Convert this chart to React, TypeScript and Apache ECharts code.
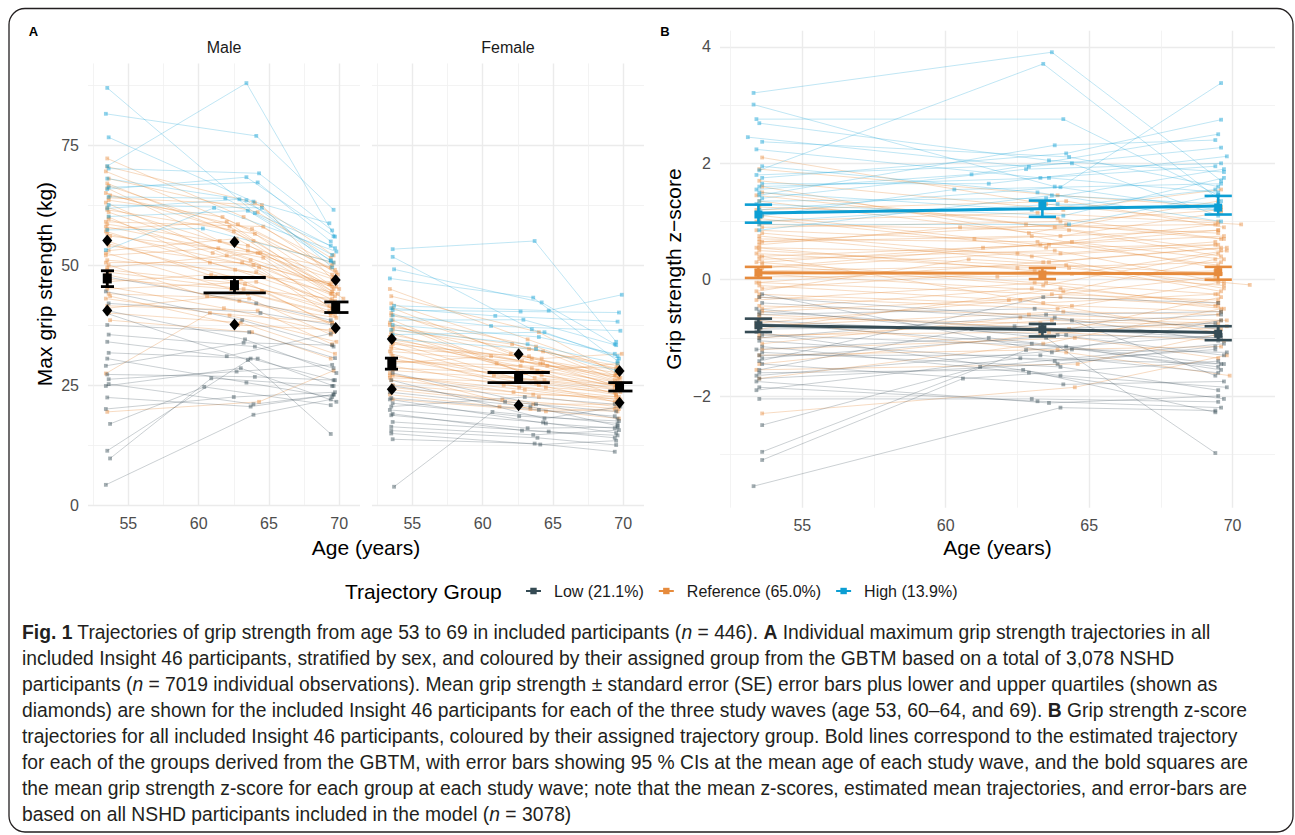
import React, { useEffect, useRef } from "react";
import * as echarts from "echarts";

const FONT = "'Liberation Sans', Arial, Helvetica, sans-serif";
const GROUPS = ["Low (21.1%)", "Reference (65.0%)", "High (13.9%)"];
const GROUP_COLORS = ["#354b54", "#e68b3d", "#0c9ed3"];

const X_RANGE = [52.13, 71.48];
const X_TICKS = [55, 60, 65, 70];
const Y_RANGE_A = [0, 92];
const Y_TICKS_A = [0, 25, 50, 75];
const Y_RANGE_B = [-3.92, 4.28];
const Y_TICKS_B = [-2, 0, 2, 4];

// individual trajectories: [age1, value1, age2, value2, age3, value3]
const MALE_LOW = [
  [53.4, 4.2, 63.9, 18.8, 69.4, 22.0],
  [53.5, 11.3, 63.7, 30.5, 69.6, 26.0],
  [53.7, 9.7, 60.9, 26.4, 69.5, 24.8],
  [53.7, 16.9, 60.4, 24.6, 69.4, 20.8],
  [53.5, 22.4, 63.7, 20.5, 69.6, 23.0],
  [53.4, 24.8, 63.0, 28.5, 69.8, 21.5],
  [53.5, 39.9, 63.5, 30.2, 69.4, 14.8],
  [53.6, 26.2, 62.7, 27.8, 69.5, 29.2],
  [53.5, 27.2, 64.0, 26.7, 69.7, 26.0],
  [53.4, 29.0, 63.2, 33.8, 69.5, 33.3],
  [53.6, 31.7, 64.2, 30.5, 69.6, 24.8],
  [53.5, 34.0, 62.0, 31.0, 69.4, 35.7],
  [53.5, 37.5, 63.6, 36.0, 69.7, 30.6],
  [53.6, 42.0, 64.4, 40.0, 69.5, 37.5],
  [53.4, 44.5, 63.1, 38.5, 69.6, 33.0],
  [53.5, 47.5, 64.1, 42.0, 69.4, 38.5],
  [53.6, 25.2, 63.9, 21.0, 69.6, 23.0],
  [53.5, 40.5, 63.3, 34.5, 69.8, 27.5],
  [53.5, 30.5, 63.4, 25.5, 69.5, 22.5],
  [53.6, 35.5, 64.0, 33.0, 69.6, 28.5],
  [53.4, 20.0, 62.5, 22.5, 69.7, 23.5],
];
const MALE_REF = [
  [53.5, 72.2, 63.2, 60.0, 69.5, 50.0],
  [53.4, 69.5, 62.8, 58.5, 69.7, 49.0],
  [53.6, 68.0, 64.2, 61.0, 69.4, 51.5],
  [53.5, 66.0, 61.5, 55.0, 69.6, 47.0],
  [53.7, 64.5, 63.8, 57.5, 69.8, 48.5],
  [53.4, 63.0, 62.0, 52.0, 69.5, 45.5],
  [53.5, 61.5, 64.0, 56.5, 69.3, 46.0],
  [53.6, 60.0, 60.8, 50.5, 69.9, 44.0],
  [53.5, 58.5, 63.5, 54.0, 69.6, 47.5],
  [53.4, 57.0, 62.6, 49.0, 69.4, 42.5],
  [53.7, 56.0, 64.4, 52.5, 70.0, 45.0],
  [53.5, 55.0, 61.2, 47.5, 69.5, 41.0],
  [53.6, 54.0, 63.9, 50.0, 69.7, 43.5],
  [53.4, 52.5, 62.3, 45.0, 69.4, 40.0],
  [53.5, 51.0, 64.1, 48.5, 69.6, 42.0],
  [53.6, 50.0, 60.6, 43.5, 69.8, 39.0],
  [53.5, 49.0, 63.3, 46.0, 69.3, 40.5],
  [53.4, 48.0, 62.9, 42.5, 69.5, 38.0],
  [53.7, 47.0, 64.5, 44.5, 69.7, 37.5],
  [53.5, 45.5, 61.8, 41.0, 69.6, 36.0],
  [53.6, 44.0, 63.6, 43.0, 69.4, 35.5],
  [53.4, 43.0, 62.2, 39.5, 69.8, 34.0],
  [53.5, 41.5, 64.2, 40.5, 69.5, 33.5],
  [53.6, 40.0, 63.0, 38.0, 69.7, 31.5],
  [53.5, 62.0, 63.5, 53.0, 69.4, 49.5],
  [53.4, 59.0, 64.6, 58.0, 69.9, 48.0],
  [53.6, 53.0, 62.7, 55.5, 69.5, 44.5],
  [53.5, 46.5, 60.9, 48.0, 69.6, 46.5],
  [53.7, 38.5, 63.8, 36.0, 69.4, 30.5],
  [53.5, 19.4, 64.3, 21.5, 69.6, 28.0],
  [53.4, 27.4, 60.8, 40.0, 69.5, 38.0],
  [53.6, 64.0, 64.5, 62.5, 69.5, 47.0],
  [53.5, 57.5, 62.0, 59.0, 70.3, 43.0],
  [53.4, 50.5, 63.1, 50.5, 69.3, 41.5],
  [53.5, 67.0, 63.9, 55.0, 69.6, 50.5],
  [53.6, 59.5, 61.0, 52.5, 69.4, 46.0],
  [53.5, 70.5, 64.0, 63.0, 69.6, 52.0],
  [53.4, 65.0, 62.5, 57.0, 69.5, 44.0],
  [53.6, 61.0, 63.7, 51.0, 69.7, 42.5],
  [53.5, 56.5, 64.3, 49.5, 69.4, 39.5],
  [53.4, 52.0, 61.4, 53.5, 69.8, 45.5],
  [53.6, 48.5, 63.2, 45.0, 69.5, 43.0],
  [53.5, 45.0, 64.1, 46.5, 69.6, 41.0],
  [53.7, 43.5, 62.8, 37.5, 69.4, 36.5],
  [53.5, 41.0, 63.5, 44.0, 69.7, 39.5],
  [53.4, 58.0, 64.6, 51.5, 69.6, 40.5],
  [53.6, 63.5, 61.7, 60.0, 69.5, 48.0],
  [53.5, 54.5, 63.0, 47.0, 69.8, 37.0],
  [53.5, 49.5, 64.2, 52.5, 69.4, 44.0],
  [53.6, 66.5, 62.2, 58.0, 69.6, 45.0],
];
const MALE_HIGH = [
  [53.5, 86.9, 64.0, 60.8, 69.4, 54.0],
  [53.4, 81.5, 64.1, 76.9, 69.6, 61.5],
  [53.6, 76.6, 63.9, 63.2, 69.3, 58.7],
  [53.5, 70.6, 63.4, 87.9, 69.7, 55.9],
  [53.6, 70.1, 64.3, 69.1, 69.5, 57.2],
  [53.6, 66.2, 64.2, 67.2, 69.4, 54.9],
  [53.5, 65.8, 63.4, 68.3, 69.6, 56.0],
  [53.6, 64.2, 61.9, 63.9, 69.5, 52.1],
  [53.5, 61.8, 62.9, 63.7, 69.7, 53.5],
  [53.6, 60.1, 63.5, 61.3, 69.4, 51.0],
  [53.5, 57.3, 60.3, 57.6, 69.6, 50.5],
  [53.4, 53.1, 61.1, 61.9, 69.8, 52.8],
  [53.6, 62.5, 64.5, 61.9, 69.5, 49.5],
  [53.5, 68.0, 63.4, 63.5, 69.4, 50.8],
];
const FEMALE_LOW = [
  [53.7, 3.8, 60.7, 19.4, 69.6, 17.0],
  [53.6, 13.7, 63.7, 12.8, 69.4, 11.1],
  [53.5, 14.9, 64.1, 12.6, 69.5, 13.4],
  [53.5, 16.3, 63.6, 14.6, 69.7, 15.6],
  [53.6, 17.3, 64.7, 15.3, 69.4, 14.0],
  [53.5, 18.7, 63.2, 16.0, 69.6, 16.2],
  [53.4, 19.8, 64.3, 17.2, 69.5, 15.0],
  [53.6, 21.2, 62.6, 18.5, 69.7, 17.5],
  [53.5, 22.3, 64.0, 19.8, 69.4, 18.5],
  [53.4, 23.5, 63.4, 20.5, 69.6, 16.5],
  [53.6, 24.8, 61.6, 21.5, 69.5, 19.5],
  [53.5, 26.0, 64.4, 18.0, 69.8, 20.5],
  [53.5, 20.5, 63.0, 22.5, 69.4, 21.0],
  [53.6, 27.5, 63.8, 21.0, 69.6, 18.0],
  [53.5, 15.5, 63.9, 14.0, 69.5, 12.5],
  [53.6, 19.0, 62.8, 15.5, 69.6, 14.5],
  [53.4, 22.0, 64.5, 17.0, 69.4, 16.0],
];
const FEMALE_REF = [
  [53.4, 45.0, 63.2, 34.5, 69.6, 28.0],
  [53.5, 43.5, 64.0, 36.0, 69.5, 27.5],
  [53.6, 41.0, 62.0, 31.5, 69.7, 26.5],
  [53.5, 39.5, 63.8, 33.0, 69.4, 27.0],
  [53.4, 38.0, 61.0, 29.5, 69.8, 25.5],
  [53.6, 36.5, 64.3, 32.0, 69.6, 26.0],
  [53.5, 35.5, 62.8, 30.0, 69.5, 25.0],
  [53.6, 34.0, 63.5, 28.5, 69.7, 24.5],
  [53.5, 33.0, 60.8, 27.0, 69.4, 23.5],
  [53.4, 32.0, 64.1, 29.5, 69.8, 25.5],
  [53.6, 31.0, 62.4, 26.5, 69.6, 24.0],
  [53.5, 30.0, 63.9, 28.0, 69.5, 23.0],
  [53.5, 29.0, 61.5, 25.0, 69.7, 22.5],
  [53.6, 28.0, 64.4, 26.0, 69.4, 24.5],
  [53.4, 27.0, 63.0, 24.0, 69.6, 21.5],
  [53.5, 26.0, 62.2, 23.5, 69.8, 22.0],
  [53.6, 25.0, 64.0, 22.5, 69.5, 20.5],
  [53.5, 24.0, 63.6, 21.0, 69.7, 21.0],
  [53.4, 23.0, 61.2, 20.5, 69.6, 19.5],
  [53.6, 22.0, 64.5, 19.5, 69.4, 20.0],
  [53.5, 36.0, 63.1, 27.5, 69.6, 29.5],
  [53.6, 33.5, 64.2, 30.5, 69.9, 31.5],
  [53.5, 29.5, 60.6, 31.0, 69.5, 27.0],
  [53.4, 27.5, 63.4, 20.0, 69.7, 18.0],
  [53.5, 31.5, 62.6, 24.5, 69.6, 22.0],
  [53.6, 38.5, 63.7, 26.5, 69.5, 25.0],
  [53.5, 42.0, 63.3, 32.5, 69.6, 29.0],
  [53.4, 34.5, 64.6, 29.0, 69.8, 26.5],
  [53.5, 40.0, 63.5, 30.5, 69.6, 27.5],
  [53.6, 37.0, 62.1, 33.5, 69.5, 28.5],
  [53.4, 35.0, 64.2, 27.0, 69.7, 24.0],
  [53.5, 32.5, 63.3, 31.0, 69.4, 26.0],
  [53.6, 30.5, 64.5, 24.5, 69.8, 23.5],
  [53.5, 28.5, 62.9, 27.5, 69.6, 25.0],
  [53.4, 26.5, 63.8, 25.5, 69.5, 23.0],
  [53.6, 24.5, 61.4, 22.0, 69.7, 20.0],
  [53.5, 34.0, 64.0, 25.0, 69.4, 21.5],
  [53.5, 30.0, 62.7, 29.0, 69.6, 28.5],
  [53.6, 27.0, 63.6, 23.0, 69.5, 22.5],
  [53.4, 37.5, 64.3, 29.5, 69.8, 24.5],
];
const FEMALE_HIGH = [
  [53.6, 53.3, 63.7, 55.0, 69.5, 34.0],
  [53.6, 51.7, 63.5, 36.6, 69.6, 31.0],
  [53.7, 49.1, 64.2, 42.2, 69.4, 33.5],
  [53.4, 47.2, 63.6, 43.2, 69.6, 30.0],
  [53.7, 41.5, 64.7, 40.5, 69.9, 43.8],
  [53.6, 40.6, 62.7, 40.3, 69.7, 40.1],
  [53.5, 41.0, 60.9, 39.4, 69.6, 38.2],
  [53.6, 39.5, 60.6, 37.3, 69.8, 36.3],
  [53.5, 38.5, 62.9, 38.6, 69.5, 33.3],
  [53.6, 37.5, 64.0, 35.0, 69.4, 31.5],
  [53.5, 36.5, 63.2, 33.5, 69.6, 29.5],
  [53.6, 35.5, 64.4, 36.0, 69.7, 30.5],
  [53.4, 34.5, 63.8, 32.5, 69.5, 28.0],
];
const B_LOW = [
  [53.3, -3.55, 64.0, -2.2, 69.4, -2.25],
  [53.6, -2.96, 62.8, -1.21, 69.6, -0.95],
  [53.6, -3.1, 60.6, -1.7, 69.5, -1.4],
  [53.6, -2.5, 61.2, -1.5, 69.7, -1.1],
  [53.5, -2.05, 63.0, -2.05, 69.5, -2.1],
  [53.4, -0.5, 63.5, -1.0, 69.4, -2.98],
  [53.5, -1.85, 63.2, -2.09, 69.6, -2.2],
  [53.4, -1.75, 63.6, -2.12, 69.5, -2.0],
  [53.5, -1.6, 62.7, -1.55, 69.4, -2.28],
  [53.6, -1.45, 64.1, -1.8, 69.7, -1.75],
  [53.5, -1.3, 63.3, -1.3, 69.5, -1.6],
  [53.4, -1.2, 61.5, -1.0, 69.6, -1.45],
  [53.5, -1.05, 63.8, -1.4, 69.4, -1.2],
  [53.6, -0.95, 64.2, -1.15, 69.6, -1.55],
  [53.5, -0.85, 62.4, -0.8, 69.5, -1.0],
  [53.4, -0.7, 63.9, -0.95, 69.7, -1.3],
  [53.5, -0.6, 63.1, -0.5, 69.5, -0.85],
  [53.6, -0.4, 64.4, -0.7, 69.4, -1.65],
  [53.5, -1.55, 60.9, -0.85, 69.6, -0.6],
  [53.4, -0.9, 64.0, -1.65, 69.8, -1.85],
  [53.5, -1.4, 63.4, -0.3, 69.5, -0.4],
  [53.6, -0.25, 63.7, -1.25, 69.6, -0.7],
  [53.5, -1.7, 63.9, -1.45, 69.4, -1.15],
  [53.6, -1.15, 62.9, -1.6, 69.7, -2.05],
  [53.5, -1.0, 63.5, -0.6, 69.6, -0.55],
  [53.6, -1.25, 64.0, -1.5, 69.5, -1.9],
  [53.4, -1.9, 62.6, -1.35, 69.7, -1.45],
  [53.5, -0.55, 63.2, -0.85, 69.4, -0.75],
  [53.6, -1.35, 64.2, -0.95, 69.6, -1.0],
  [53.5, -0.75, 63.0, -1.1, 69.5, -1.5],
  [53.4, -1.65, 64.4, -1.2, 69.8, -1.25],
  [53.5, -0.3, 63.8, -0.65, 69.5, -1.05],
];
const B_REF = [
  [53.6, 2.1, 63.5, 1.3, 69.5, 1.0],
  [53.5, 1.7, 64.1, 1.2, 69.6, 1.55],
  [53.4, 1.45, 62.8, 0.95, 69.5, 0.8],
  [53.5, 1.25, 63.9, 1.05, 69.7, 0.7],
  [53.6, 1.1, 63.3, 0.6, 69.4, 0.95],
  [53.5, 0.95, 64.3, 0.85, 69.6, 0.4],
  [53.4, 0.85, 61.0, 0.7, 69.5, 0.85],
  [53.5, 0.75, 63.6, 0.3, 69.8, 0.55],
  [53.6, 0.65, 63.0, 0.75, 69.5, 0.2],
  [53.5, 0.55, 64.0, 0.45, 69.4, 0.65],
  [53.4, 0.45, 62.5, 0.2, 69.6, 0.3],
  [53.5, 0.35, 63.8, 0.5, 69.7, -0.05],
  [53.6, 0.25, 63.4, -0.1, 69.5, 0.45],
  [53.5, 0.15, 64.2, 0.25, 69.6, -0.2],
  [53.4, 0.05, 61.8, 0.05, 69.4, 0.15],
  [53.5, -0.05, 63.7, -0.25, 69.5, -0.35],
  [53.6, -0.15, 63.1, 0.15, 69.7, -0.1],
  [53.5, -0.25, 64.4, -0.45, 69.6, -0.55],
  [53.4, -0.35, 63.5, -0.05, 69.5, -0.25],
  [53.5, -0.45, 62.9, -0.6, 69.8, -0.7],
  [53.6, -0.55, 64.0, -0.3, 69.4, -0.45],
  [53.5, -0.65, 63.3, -0.75, 69.6, -0.85],
  [53.4, -0.8, 64.1, -0.55, 69.5, -0.6],
  [53.5, -0.95, 63.6, -0.9, 69.7, -1.05],
  [53.6, -1.1, 62.6, -0.65, 69.5, -0.75],
  [53.5, -1.3, 63.9, -1.2, 69.6, -1.15],
  [53.4, -1.55, 64.6, -1.45, 69.4, -0.95],
  [53.6, -2.3, 64.5, -1.85, 69.8, -1.3],
  [53.5, 0.6, 60.5, 0.9, 69.5, 0.95],
  [53.6, 0.3, 61.3, 0.55, 69.7, 0.75],
  [53.4, -0.2, 60.8, 0.35, 69.6, 0.1],
  [53.5, 0.5, 64.3, 0.2, 70.6, -0.09],
  [53.4, 1.0, 63.2, 1.15, 70.3, 0.95],
  [53.5, -0.7, 64.2, -1.25, 69.9, -1.65],
  [53.6, 0.4, 63.4, -0.4, 69.4, -0.25],
  [53.5, 1.35, 64.0, 0.75, 69.6, 1.15],
  [53.5, -1.7, 63.4, -1.1, 69.6, -0.5],
  [53.6, 0.8, 63.0, 0.4, 69.5, 0.6],
  [53.4, 0.2, 64.4, 0.65, 69.7, 0.35],
  [53.5, -0.1, 62.2, -0.35, 69.4, 0.05],
  [53.6, 1.5, 63.8, 0.9, 69.6, 0.5],
  [53.5, -0.85, 64.0, -0.15, 69.5, -0.4],
  [53.5, 1.9, 63.9, 1.45, 69.6, 1.25],
  [53.6, 1.6, 62.9, 0.8, 69.5, 1.35],
  [53.4, 1.2, 64.2, 1.35, 69.7, 0.9],
  [53.5, 1.05, 63.5, 0.55, 69.4, 0.6],
  [53.6, 0.9, 64.0, 1.0, 69.6, 1.2],
  [53.5, 0.7, 63.2, 0.65, 69.5, 0.25],
  [53.4, 0.55, 64.4, 0.1, 69.8, 0.5],
  [53.5, 0.4, 63.6, 0.6, 69.5, 0.85],
  [53.6, 0.2, 62.5, 0.45, 69.7, -0.15],
  [53.5, 0.1, 64.1, -0.2, 69.4, 0.35],
  [53.4, -0.05, 63.4, 0.3, 69.6, 0.55],
  [53.5, -0.3, 63.9, -0.5, 69.5, -0.05],
  [53.6, -0.5, 63.0, -0.15, 69.7, -0.5],
  [53.5, -0.6, 64.3, -0.85, 69.6, -0.3],
  [53.4, -0.75, 62.6, -0.35, 69.4, -0.9],
  [53.5, -1.0, 63.7, -0.7, 69.8, -0.8],
  [53.6, -1.2, 64.5, -1.0, 69.5, -1.35],
  [53.5, -1.45, 63.3, -0.95, 69.6, -0.7],
  [53.4, 0.3, 63.1, -0.05, 69.5, -0.45],
  [53.5, 0.65, 64.2, 0.95, 69.6, 0.7],
];
const B_HIGH = [
  [53.3, 3.21, 63.7, 3.91, 69.6, 1.7],
  [53.3, 3.01, 63.8, 1.6, 69.5, 1.2],
  [53.4, 2.76, 64.1, 2.76, 69.5, 1.45],
  [53.5, 2.69, 63.6, 2.05, 69.7, 1.85],
  [53.1, 2.45, 62.9, 1.94, 69.6, 2.27],
  [53.6, 2.37, 64.3, 2.11, 69.5, 1.6],
  [53.4, 2.24, 63.3, 1.75, 69.4, 1.95],
  [53.5, 1.88, 63.4, 3.71, 69.6, 1.35],
  [53.5, 1.2, 64.0, 1.59, 69.6, 3.38],
  [53.6, 1.75, 64.2, 2.17, 69.6, 2.75],
  [53.4, 1.55, 60.9, 1.81, 69.5, 2.5],
  [53.5, 1.45, 63.8, 2.31, 69.4, 2.4],
  [53.6, 1.65, 61.5, 1.65, 69.8, 2.12],
  [53.5, 1.35, 63.5, 1.4, 69.7, 1.9],
  [53.4, 1.8, 64.4, 2.0, 69.5, 1.1],
  [53.6, 1.1, 60.3, 1.55, 69.6, 1.65],
  [53.5, 1.5, 63.0, 1.2, 69.4, 1.55],
  [53.5, 0.85, 63.7, 1.45, 69.5, 1.3],
  [53.5, 1.6, 63.6, 1.75, 69.5, 1.5],
  [53.4, 1.3, 64.1, 1.1, 69.7, 1.75],
  [53.6, 1.95, 63.2, 1.5, 69.6, 1.0],
  [53.5, 1.0, 63.9, 1.3, 69.4, 1.2],
  [53.6, 1.4, 62.8, 1.9, 69.6, 2.0],
  [53.5, 0.95, 64.3, 0.95, 69.5, 1.45],
];

// panel A summaries (mean, SE, quartiles) per study wave
const A_WAVE_AGES = { male: [53.5, 62.55, 69.75], female: [53.54, 62.56, 69.74] };
const A_WAVE_RANGE = [[53.05, 53.98], [60.35, 64.78], [68.94, 70.66]];
const MALE_MEAN = [47.2, 45.8, 41.2];
const MALE_SE = [[45.5, 48.8], [44.2, 47.4], [40.1, 42.3]];
const MALE_QUART = [[40.5, 55.1], [37.6, 54.8], [36.9, 46.9]];
const FEMALE_MEAN = [29.4, 26.5, 24.6];
const FEMALE_SE = [[28.3, 30.6], [25.5, 27.6], [23.75, 25.5]];
const FEMALE_QUART = [[24.1, 34.6], [20.8, 31.4], [21.3, 27.9]];

// panel B: estimated trajectories, mean z-scores and 95% CIs
const B_WAVE_AGES = [53.47, 63.37, 69.5];
const B_CAP_HALF = 0.475;
const B_TRAJ = [[-0.785, -0.86, -0.91], [0.12, 0.11, 0.1], [1.145, 1.22, 1.265]];
const B_MEAN = [[-0.785, -0.85, -0.93], [0.12, 0.09, 0.13], [1.12, 1.28, 1.24]];
const B_CI = [
  [[-0.9, -0.67], [-0.975, -0.76], [-1.04, -0.8]],
  [[0.03, 0.22], [0.01, 0.2], [0.0, 0.22]],
  [[0.98, 1.29], [1.08, 1.36], [1.12, 1.44]],
];

const CAPTION = [
  "{b|Fig. 1} Trajectories of grip strength from age 53 to 69 in included participants ({i|n} = 446). {b|A} Individual maximum grip strength trajectories in all",
  "included Insight 46 participants, stratified by sex, and coloured by their assigned group from the GBTM based on a total of 3,078 NSHD",
  "participants ({i|n} = 7019 individual observations). Mean grip strength ± standard error (SE) error bars plus lower and upper quartiles (shown as",
  "diamonds) are shown for the included Insight 46 participants for each of the three study waves (age 53, 60–64, and 69). {b|B} Grip strength z-score",
  "trajectories for all included Insight 46 participants, coloured by their assigned trajectory group. Bold lines correspond to the estimated trajectory",
  "for each of the groups derived from the GBTM, with error bars showing 95 % CIs at the mean age of each study wave, and the bold squares are",
  "the mean grip strength z-score for each group at each study wave; note that the mean z-scores, estimated mean trajectories, and error-bars are",
  "based on all NSHD participants included in the model ({i|n} = 3078)",
];

const near = (list: number[], v: number) => list.some((t) => Math.abs(t - v) < 1e-6);

function trajRenderer(color: string, lineOpacity: number) {
  return (params: any, api: any) => {
    const pts: number[][] = [];
    for (let k = 0; k < 3; k++) {
      const a = api.value(2 * k);
      const v = api.value(2 * k + 1);
      if (a == null || v == null || isNaN(a) || isNaN(v)) continue;
      pts.push(api.coord([a, v]));
    }
    const children: any[] = [
      {
        type: "polyline",
        shape: { points: pts },
        style: { stroke: color, lineWidth: 0.75, opacity: lineOpacity, fill: "none" },
        silent: true,
      },
    ];
    pts.forEach((p) =>
      children.push({
        type: "rect",
        shape: { x: p[0] - 1.9, y: p[1] - 1.9, width: 3.8, height: 3.8 },
        style: { fill: color, opacity: 0.45 },
        silent: true,
      })
    );
    return { type: "group", children };
  };
}

function errRenderer(color: string, width: number) {
  return (params: any, api: any) => {
    const x = api.value(0);
    const lo = api.value(1);
    const hi = api.value(2);
    const cl = api.value(3);
    const cr = api.value(4);
    const a = api.coord([x, lo]);
    const b = api.coord([x, hi]);
    const l1 = api.coord([cl, hi]);
    const r1 = api.coord([cr, hi]);
    const l2 = api.coord([cl, lo]);
    const r2 = api.coord([cr, lo]);
    const st = { stroke: color, lineWidth: width };
    return {
      type: "group",
      children: [
        { type: "line", shape: { x1: a[0], y1: a[1], x2: b[0], y2: b[1] }, style: st },
        { type: "line", shape: { x1: l1[0], y1: l1[1], x2: r1[0], y2: r1[1] }, style: st },
        { type: "line", shape: { x1: l2[0], y1: l2[1], x2: r2[0], y2: r2[1] }, style: st },
      ],
    };
  };
}

function trajSeries(name: string, data: number[][], color: string, idx: number, op: number) {
  return {
    type: "custom",
    name,
    xAxisIndex: idx,
    yAxisIndex: idx,
    data,
    dimensions: ["a1", "v1", "a2", "v2", "a3", "v3"],
    encode: { x: [0, 2, 4], y: [1, 3, 5] },
    renderItem: trajRenderer(color, op),
    silent: true,
    z: 2,
  };
}

function xAxis(gridIndex: number) {
  return {
    type: "value",
    gridIndex,
    min: X_RANGE[0],
    max: X_RANGE[1],
    splitNumber: 4,
    axisLine: { show: false },
    axisTick: { show: false },
    axisLabel: {
      color: "#4d4d4d",
      fontSize: 16,
      fontFamily: FONT,
      margin: 10,
      formatter: (v: number) => (near(X_TICKS, v) ? String(Math.round(v)) : ""),
    },
    splitLine: { show: true, showMinLine: false, showMaxLine: false, lineStyle: { color: "#ebebeb", width: 1.4 } },
    minorTick: { show: false, splitNumber: 2 },
    minorSplitLine: { show: true, lineStyle: { color: "#f0f0f0", width: 0.8 } },
  };
}

function buildOption() {
  const series: any[] = [];
  series.push(trajSeries("male-ref", MALE_REF, GROUP_COLORS[1], 0, 0.42));
  series.push(trajSeries("male-low", MALE_LOW, GROUP_COLORS[0], 0, 0.35));
  series.push(trajSeries("male-high", MALE_HIGH, GROUP_COLORS[2], 0, 0.35));
  series.push(trajSeries("female-ref", FEMALE_REF, GROUP_COLORS[1], 1, 0.42));
  series.push(trajSeries("female-low", FEMALE_LOW, GROUP_COLORS[0], 1, 0.35));
  series.push(trajSeries("female-high", FEMALE_HIGH, GROUP_COLORS[2], 1, 0.35));
  series.push(trajSeries("b-ref", B_REF, GROUP_COLORS[1], 2, 0.42));
  series.push(trajSeries("b-low", B_LOW, GROUP_COLORS[0], 2, 0.35));
  series.push(trajSeries("b-high", B_HIGH, GROUP_COLORS[2], 2, 0.35));

  const sexes = [
    { key: "male", mean: MALE_MEAN, se: MALE_SE, q: MALE_QUART, idx: 0 },
    { key: "female", mean: FEMALE_MEAN, se: FEMALE_SE, q: FEMALE_QUART, idx: 1 },
  ];
  sexes.forEach((s) => {
    const ages = (A_WAVE_AGES as any)[s.key] as number[];
    series.push({
      type: "custom",
      name: s.key + "-se",
      xAxisIndex: s.idx,
      yAxisIndex: s.idx,
      data: ages.map((a, i) => [a, s.se[i][0], s.se[i][1], A_WAVE_RANGE[i][0], A_WAVE_RANGE[i][1]]),
      encode: { x: [0, 3, 4], y: [1, 2] },
      renderItem: errRenderer("#000000", 2.8),
      silent: true,
      z: 5,
    });
    series.push({
      type: "scatter",
      name: s.key + "-mean",
      xAxisIndex: s.idx,
      yAxisIndex: s.idx,
      data: ages.map((a, i) => [a, s.mean[i]]),
      symbol: "rect",
      symbolSize: [9, 10],
      itemStyle: { color: "#000000", opacity: 1 },
      silent: true,
      z: 6,
    });
    const qd: number[][] = [];
    ages.forEach((a, i) => {
      qd.push([a, s.q[i][0]]);
      qd.push([a, s.q[i][1]]);
    });
    series.push({
      type: "scatter",
      name: s.key + "-quartiles",
      xAxisIndex: s.idx,
      yAxisIndex: s.idx,
      data: qd,
      symbol: "diamond",
      symbolSize: [10, 12],
      itemStyle: { color: "#000000", opacity: 1 },
      silent: true,
      z: 6,
    });
  });

  GROUPS.forEach((g, gi) => {
    const color = GROUP_COLORS[gi];
    series.push({
      type: "line",
      name: g,
      xAxisIndex: 2,
      yAxisIndex: 2,
      data: B_WAVE_AGES.map((a, i) => [a, B_TRAJ[gi][i]]),
      symbol: "rect",
      showSymbol: false,
      lineStyle: { color, width: 3 },
      itemStyle: { color },
      silent: true,
      z: 8,
    });
    series.push({
      type: "custom",
      name: g + "-ci",
      xAxisIndex: 2,
      yAxisIndex: 2,
      data: B_WAVE_AGES.map((a, i) => [a, B_CI[gi][i][0], B_CI[gi][i][1], a - B_CAP_HALF, a + B_CAP_HALF]),
      encode: { x: [0, 3, 4], y: [1, 2] },
      renderItem: errRenderer(color, 2.6),
      silent: true,
      z: 9,
    });
    series.push({
      type: "scatter",
      name: g + "-mean",
      xAxisIndex: 2,
      yAxisIndex: 2,
      data: B_WAVE_AGES.map((a, i) => [a, B_MEAN[gi][i]]),
      symbol: "rect",
      symbolSize: 8,
      itemStyle: { color, opacity: 1 },
      silent: true,
      z: 10,
    });
  });

  const yA = (gridIndex: number, showLabels: boolean) => ({
    type: "value",
    gridIndex,
    min: Y_RANGE_A[0],
    max: Y_RANGE_A[1],
    interval: 25,
    axisLine: { show: false },
    axisTick: { show: false },
    axisLabel: {
      show: showLabels,
      color: "#4d4d4d",
      fontSize: 16,
      fontFamily: FONT,
      margin: 9,
      formatter: (v: number) => (near(Y_TICKS_A, v) ? String(Math.round(v)) : ""),
    },
    splitLine: { show: true, showMaxLine: false, lineStyle: { color: "#ebebeb", width: 1.4 } },
    minorTick: { show: false, splitNumber: 2 },
    minorSplitLine: { show: true, lineStyle: { color: "#f0f0f0", width: 0.8 } },
  });

  const yB = {
    type: "value",
    gridIndex: 2,
    min: Y_RANGE_B[0],
    max: Y_RANGE_B[1],
    splitNumber: 4,
    axisLine: { show: false },
    axisTick: { show: false },
    axisLabel: {
      color: "#4d4d4d",
      fontSize: 16,
      fontFamily: FONT,
      margin: 9,
      formatter: (v: number) => (near(Y_TICKS_B, v) ? String(Math.round(v)).replace("-", "\u2212") : ""),
    },
    splitLine: { show: true, showMinLine: false, showMaxLine: false, lineStyle: { color: "#ebebeb", width: 1.4 } },
    minorTick: { show: false, splitNumber: 2 },
    minorSplitLine: { show: true, lineStyle: { color: "#f0f0f0", width: 0.8 } },
  };

  const txt = (text: string, x: number, y: number, size: number, extra: any = {}) => ({
    type: "text",
    x,
    y,
    rotation: extra.rotation || 0,
    silent: true,
    style: {
      text,
      fill: extra.fill || "#1a1a1a",
      fontSize: size,
      fontFamily: FONT,
      fontWeight: extra.bold ? "bold" : "normal",
      align: extra.align || "center",
      verticalAlign: "middle",
    },
  });

  const capSize = 19.3;
  const captionEls = CAPTION.map((line, i) => ({
    type: "text",
    x: 22,
    y: 632 + i * 26.1,
    silent: true,
    style: {
      text: line,
      fill: "#231f20",
      fontSize: capSize,
      fontFamily: FONT,
      align: "left",
      verticalAlign: "middle",
      rich: {
        b: { fontSize: capSize, fontFamily: FONT, fontWeight: "bold", fill: "#231f20" },
        i: { fontSize: capSize, fontFamily: FONT, fontStyle: "italic", fill: "#231f20" },
      },
    },
  }));

  return {
    animation: false,
    backgroundColor: "#ffffff",
    textStyle: { fontFamily: FONT },
    grid: [
      { left: 88, top: 63.4, width: 272, height: 441.6 },
      { left: 372, top: 63.4, width: 272, height: 441.6 },
      { left: 720, top: 30.7, width: 555, height: 477 },
    ],
    xAxis: [xAxis(0), xAxis(1), xAxis(2)],
    yAxis: [yA(0, true), yA(1, false), yB],
    legend: {
      data: GROUPS,
      left: 520,
      top: 578,
      itemWidth: 15,
      itemHeight: 8,
      itemGap: 14,
      selectedMode: false,
      lineStyle: { width: 2 },
      textStyle: { fontSize: 16, color: "#1a1a1a", fontFamily: FONT, padding: [0, 0, 0, 8] },
    },
    graphic: {
      elements: [
        {
          type: "rect",
          silent: true,
          shape: { x: 9, y: 8.5, width: 1284, height: 823.5, r: 16 },
          style: { fill: "none", stroke: "#231f20", lineWidth: 1.3 },
          z: -1,
        },
        txt("A", 33.5, 31.3, 13, { bold: true, fill: "#000" }),
        txt("B", 665, 31, 13, { bold: true, fill: "#000" }),
        txt("Male", 224, 47, 16),
        txt("Female", 508, 47, 16),
        txt("Max grip strength (kg)", 44, 284, 21, { rotation: Math.PI / 2, fill: "#000" }),
        txt("Age (years)", 366, 547, 21, { fill: "#000" }),
        txt("Grip strength z\u2212score", 673, 269, 21, { rotation: Math.PI / 2, fill: "#000" }),
        txt("Age (years)", 997.5, 547, 21, { fill: "#000" }),
        txt("Trajectory Group", 345, 591.5, 21, { align: "left", fill: "#000" }),
        ...captionEls,
      ],
    },
    series,
  };
}

export default function App() {
  const ref = useRef<HTMLDivElement>(null);
  useEffect(() => {
    if (!ref.current) return;
    const chart = echarts.init(ref.current, null, { renderer: "svg", width: 1295, height: 835 });
    chart.setOption(buildOption() as any);
    return () => chart.dispose();
  }, []);
  return (
    <div
      ref={ref}
      style={{ position: "absolute", left: 0, top: 0, width: 1295, height: 835, background: "#ffffff" }}
    />
  );
}
